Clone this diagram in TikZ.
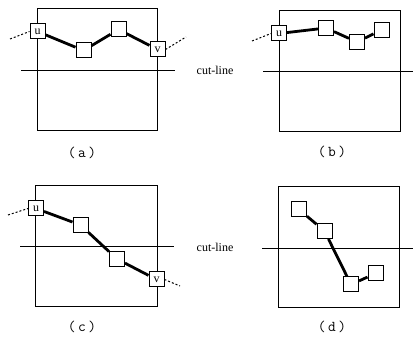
\documentclass[tikz,border=0pt]{standalone}
\usepackage{fontspec}
\setmainfont{Liberation Serif}
\begin{document}
\begin{tikzpicture}[x=1pt,y=-1pt,
  sq/.style={draw,fill=white,line width=1pt,minimum size=15pt,inner sep=0pt,font=\fontsize{12}{12}\selectfont},
  frame/.style={draw,line width=0.9pt},
  cut/.style={line width=0.9pt},
  link/.style={line width=2.8pt},
  ext/.style={line width=1pt,dash pattern=on 2pt off 2pt},
  sublbl/.style={font=\ttfamily\fontsize{15}{15}\selectfont},
  cutlbl/.style={font=\fontsize{12}{12}\selectfont,anchor=center}]
\useasboundingbox (0,0) rectangle (413,339);
% panel a
\draw[frame] (37,8) rectangle (157,130);
\draw[cut] (21,70) -- (175,70);
\coordinate (a0) at (10,39);
\coordinate (a5) at (186,37);
\node[sq] (au) at (37.5,31.5) {u};
\node[sq] (a2) at (83.5,50.5) {};
\node[sq] (a3) at (118.5,29.5) {};
\node[sq] (av) at (157.5,49.5) {v};
\draw[link] (au) -- (a2) -- (a3) -- (av);
\draw[ext] (a0) -- (au.west);
\draw[ext] (av.east) -- (a5);
\node[sublbl] (la) at (82,153) {(\,a\,)};
\node[cutlbl] (c1) at (215,70) {cut-line};
% panel b
\draw[frame] (279,10) rectangle (400,131);
\draw[cut] (263,71) -- (413,71);
\coordinate (b0) at (252,41);
\node[sq] (bu) at (279,33.5) {u};
\node[sq] (b2) at (326,28) {};
\node[sq] (b3) at (357,42) {};
\node[sq] (b4) at (381.5,30) {};
\draw[link] (bu) -- (b2) -- (b3) -- (b4);
\draw[ext] (b0) -- (bu.west);
\node[sublbl] (lb) at (332,152) {(\,b\,)};
% panel c
\draw[frame] (35,185) rectangle (157,306);
\draw[cut] (20,246) -- (174,246);
\coordinate (c0) at (8,215);
\coordinate (c5) at (180,286);
\node[sq] (cu) at (36,208.5) {u};
\node[sq] (c2) at (80.5,225) {};
\node[sq] (c3) at (117,259) {};
\node[sq] (cv) at (156.5,279.5) {v};
\draw[link] (cu) -- (c2) -- (c3) -- (cv);
\draw[ext] (c0) -- (cu.west);
\draw[ext] (cv.east) -- (c5);
\node[sublbl] (lc) at (82,327) {(\,c\,)};
\node[cutlbl] (c2l) at (215,247) {cut-line};
% panel d
\draw[frame] (278,186) rectangle (399,307);
\draw[cut] (262,248) -- (413,248);
\node[sq] (d1) at (299,209.5) {};
\node[sq] (d2) at (324.5,231) {};
\node[sq] (d3) at (351,284.5) {};
\node[sq] (d4) at (375.5,273.5) {};
\draw[link] (d1) -- (d2) -- (d3) -- (d4);
\node[sublbl] (ld) at (332,327) {(\,d\,)};
\end{tikzpicture}
\end{document}
